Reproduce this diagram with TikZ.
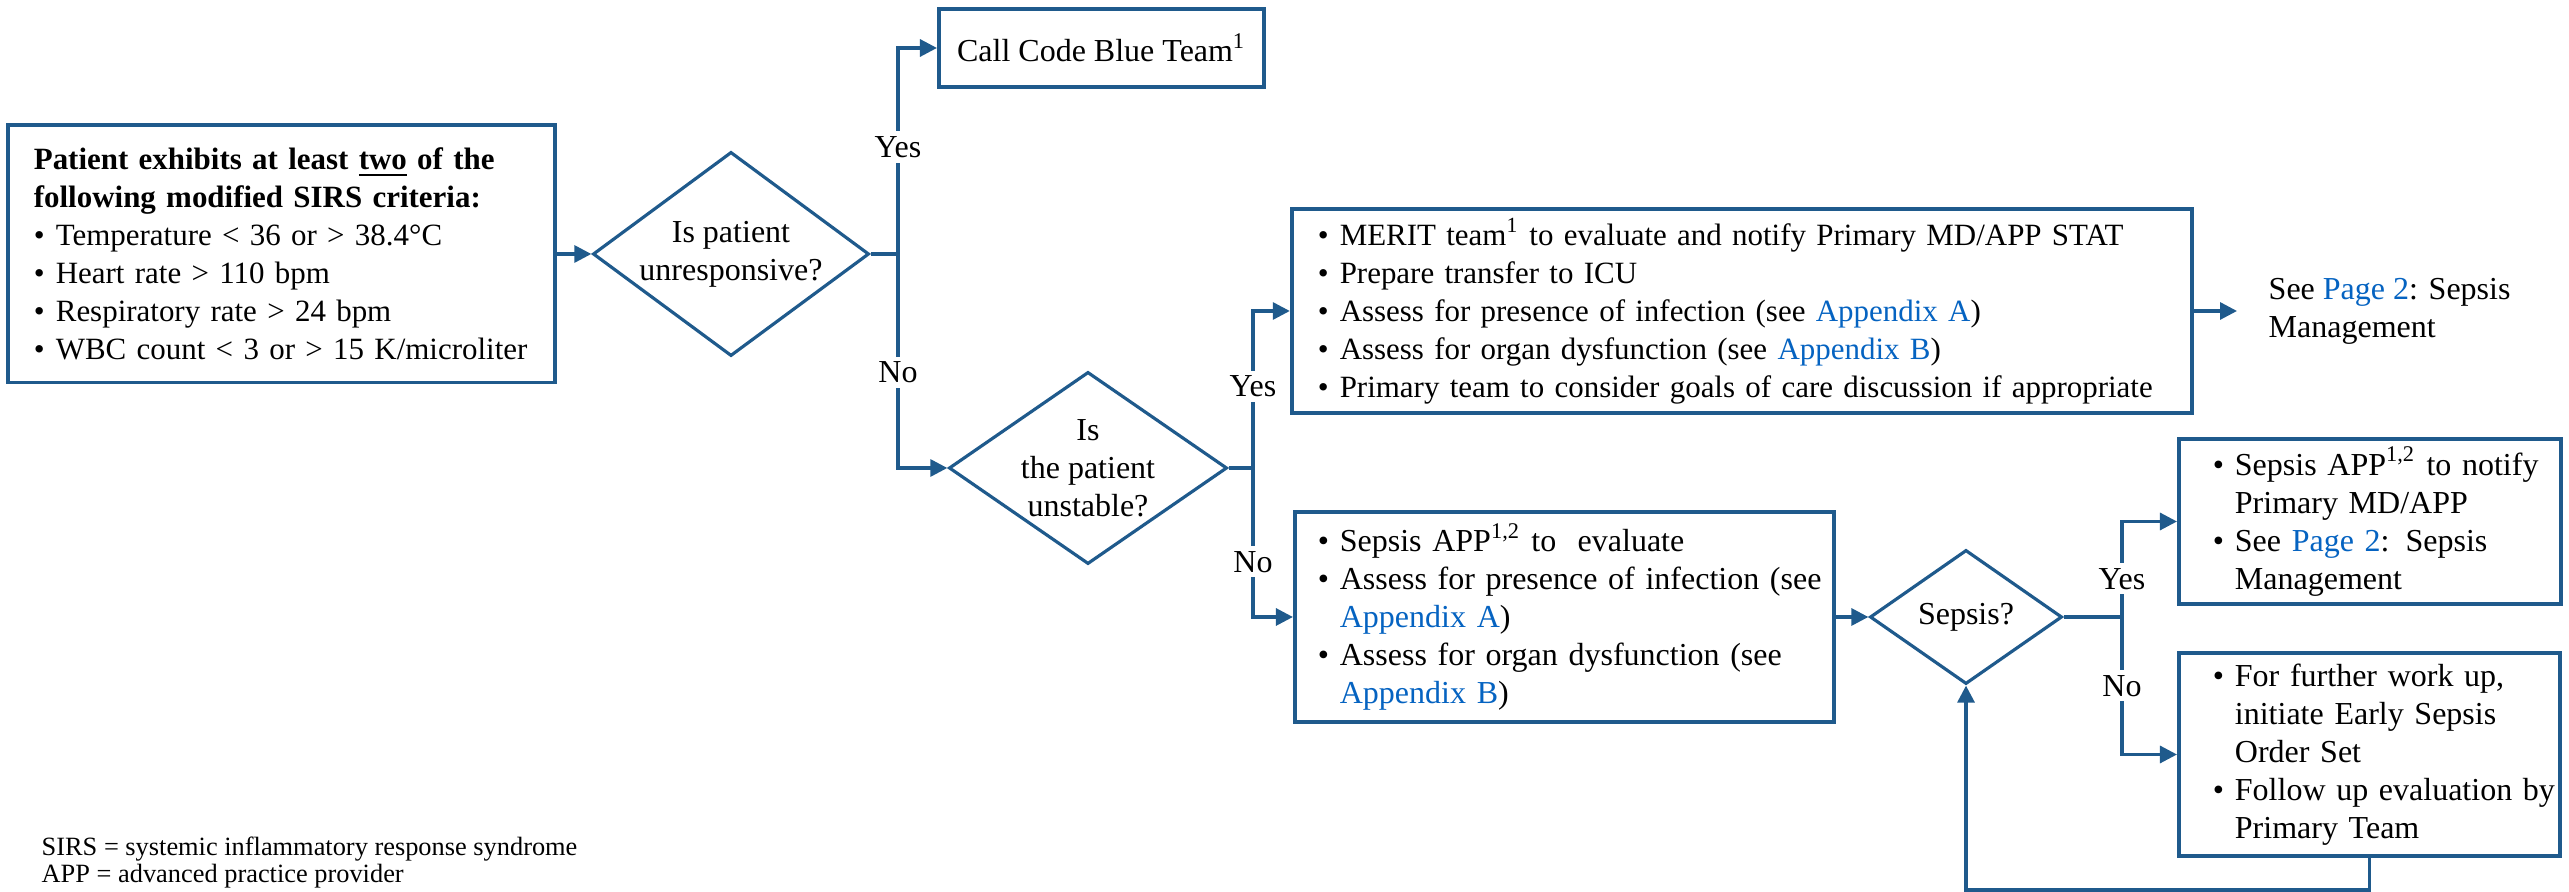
\documentclass[tikz,border=0pt]{standalone}
\usepackage{fontspec}
\setmainfont{Liberation Serif}
\usetikzlibrary{shapes.geometric, arrows.meta}

\definecolor{flowblue}{RGB}{31,90,140}
\definecolor{linkblue}{RGB}{5,99,193}

\newcommand{\mainsize}{\fontsize{9.1pt}{10.8pt}\selectfont}
\newcommand{\tightsize}{\fontsize{8.8pt}{10.8pt}\selectfont}
\newcommand{\notesize}{\fontsize{7.5pt}{7.8pt}\selectfont}
\newcommand{\bul}[1]{\mbox{\makebox[0.22cm][l]{\textbullet}#1}}
\newcommand{\hang}[1]{\mbox{\hspace*{0.22cm}#1}}

\begin{document}
\begin{tikzpicture}[x=0.01cm, y=-0.01cm,
    infobox/.style={draw=flowblue, line width=1.1pt, align=left, inner ysep=0pt, font=\mainsize},
    question/.style={diamond, draw=flowblue, line width=0.9pt, align=center, inner sep=0pt, font=\mainsize},
    conn/.style={draw=flowblue, line width=0.9pt},
    conarrow/.style={conn, -{Triangle[length=0.17cm, width=0.17cm]}},
    answer/.style={fill=white, inner sep=0.05cm, font=\mainsize}]

        \useasboundingbox (0,0) rectangle (2569,892);

        \coordinate (j1) at (898,254);
        \coordinate (j2) at (1253,468);
        \coordinate (j3) at (2122,617);

        \node[infobox, font=\tightsize, text width=4.95cm, inner xsep=0.26cm, minimum height=2.57cm] (sirs) at (281.5,254) {%
            \textbf{Patient exhibits at least \underline{two} of the}\\
            \textbf{following modified SIRS criteria:}\\
            \bul{Temperature < 36 or > 38.4°C}\\
            \bul{Heart rate > 110 bpm}\\
            \bul{Respiratory rate > 24 bpm}\\
            \bul{WBC count < 3 or > 15 K/microliter}};
        \node[question, minimum width=2.76cm, minimum height=2.04cm, aspect=1.35] (unresp) at (731,254) {Is patient\\unresponsive?};
        \node[infobox, align=center, minimum width=3.25cm, minimum height=0.78cm] (codeblue) at (1101.5,48) {Call Code Blue Team\textsuperscript{1}};
        \node[question, minimum width=2.78cm, minimum height=1.92cm, aspect=1.45] (unstable) at (1088,468) {Is\\the patient\\unstable?};
        \node[infobox, font=\tightsize, text width=8.48cm, inner xsep=0.26cm, minimum height=2.04cm] (merit) at (1742,311) {%
            \bul{MERIT team\textsuperscript{1} to evaluate and notify Primary MD/APP STAT}\\
            \bul{Prepare transfer to ICU}\\
            \bul{Assess for presence of infection (see \textcolor{linkblue}{Appendix A})}\\
            \bul{Assess for organ dysfunction (see \textcolor{linkblue}{Appendix B})}\\
            \bul{Primary team to consider goals of care discussion if appropriate}};
        \node[anchor=west, align=left, inner xsep=0.31cm, font=\mainsize] (seepage) at (2237,311) {See \textcolor{linkblue}{Page 2}: Sepsis\\Management};
        \node[infobox, text width=4.93cm, inner xsep=0.23cm, minimum height=2.1cm] (sepapp) at (1564.5,617) {%
            \bul{Sepsis APP\textsuperscript{1,2} to~ evaluate}\\
            \bul{Assess for presence of infection (see}\\
            \hang{\textcolor{linkblue}{Appendix A})}\\
            \bul{Assess for organ dysfunction (see}\\
            \hang{\textcolor{linkblue}{Appendix B})}};
        \node[question, minimum width=1.92cm, minimum height=1.34cm] (sepsis) at (1966,617) {Sepsis?};
        \node[infobox, text width=3.14cm, inner xsep=0.34cm, minimum height=1.65cm] (sepyes) at (2370,521.5) {%
            \bul{Sepsis APP\textsuperscript{1,2} to notify}\\
            \hang{Primary MD/APP}\\
            \bul{See \textcolor{linkblue}{Page 2}: Sepsis}\\
            \hang{Management}};
        \node[infobox, text width=3.13cm, inner xsep=0.34cm, minimum height=2.03cm] (sepno) at (2369.5,754.5) {%
            \bul{For further work up,}\\
            \hang{initiate Early Sepsis}\\
            \hang{Order Set}\\
            \bul{Follow up evaluation by}\\
            \hang{Primary Team}};
        \node[anchor=north west, align=left, inner sep=0pt, font=\notesize] (notes) at (41,836) {SIRS = systemic inflammatory response syndrome\\APP = advanced practice provider};

        \draw[conarrow] (sirs) -- (unresp);
        \draw[conn] (unresp) -- (j1);
        \draw[conarrow] (j1) |- (codeblue) node[answer, pos=0.26] (yes1) {Yes};
        \draw[conarrow] (j1) |- (unstable) node[answer, pos=0.277] (no1) {No};
        \draw[conn] (unstable) -- (j2);
        \draw[conarrow] (j2) |- (merit) node[answer, pos=0.26] (yes2) {Yes};
        \draw[conarrow] (j2) |- (sepapp) node[answer, pos=0.315] (no2) {No};
        \draw[conarrow] (merit) -- (seepage);
        \draw[conarrow] (sepapp) -- (sepsis);
        \draw[conn] (sepsis) -- (j3);
        \draw[conarrow] (j3) |- (sepyes) node[answer, pos=0.2] (yes3) {Yes};
        \draw[conarrow] (j3) |- (sepno) node[answer, pos=0.25] (no3) {No};
        \draw[conarrow] (sepno.south) -- ++(0,32) -| (sepsis.south);

    \end{tikzpicture}
\end{document}
